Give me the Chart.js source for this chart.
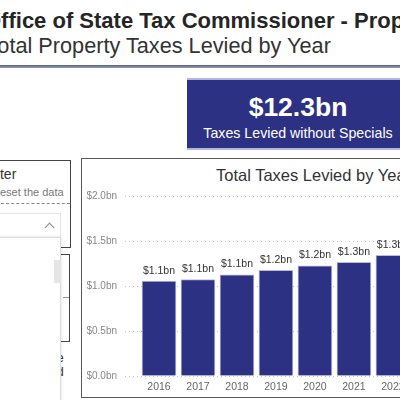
<!DOCTYPE html>
<html>
<head>
<meta charset="utf-8">
<script src="https://cdn.jsdelivr.net/npm/chart.js@4.4.0/dist/chart.umd.min.js"></script>
<style>
html, body { margin:0; padding:0; width:400px; height:400px; overflow:hidden; background:#fff;
  font-family:"Liberation Sans", Arial, sans-serif; }
div, span { position:absolute; white-space:nowrap; }
#hdr1 { left:-16px; top:8px; font-size:22px; line-height:25px; font-weight:bold; color:#252525; }
#hdr2 { left:-13.5px; top:33px; font-size:21.7px; line-height:25px; color:#333; }
#rule { left:0; top:65px; width:400px; height:3px; background:linear-gradient(#56637e,#95a0b5); }
#kpi { left:187px; top:78px; width:222px; height:68px; background:#2c3183;
  border-top:2px solid #b3b6dc; border-bottom:2px solid #b3b6dc; }
#kpiVal { left:0; width:222px; top:12px; text-align:center; font-size:26.5px; line-height:30px; font-weight:bold; color:#fff; }
#kpiLbl { left:0; width:222px; top:45px; text-align:center; font-size:14.2px; line-height:16px; color:#fff; }
#panel { left:81px; top:158px; width:400px; height:238px; border:1px solid #5a5a5a; background:#fff; }
#ctitle { left:134px; top:6px; font-size:16.5px; line-height:20px; color:#333; }
#wrap { left:1px; top:0px; width:345px; height:237px; }
#fbox { left:-5px; top:160px; width:74px; height:86px; border:1px solid #444; }
#ftitle { left:-10.8px; top:5px; font-size:14px; line-height:16px; color:#333; }
#fsub { left:-11.9px; top:25px; font-size:11px; line-height:13px; color:#777; }
#fdash { left:5px; top:42px; width:69px; border-top:1px dashed #888; }
#drop { left:-5px; top:213px; width:64px; height:23px; border:1px solid #e6e6e6; background:#fff; z-index:2; }
#chev { left:50px; top:10px; width:6px; height:6px; border-left:1px solid #888; border-top:1px solid #888; transform:rotate(45deg); }
#box2 { left:-5px; top:254px; width:73px; height:86px; border:1px solid #444; z-index:1; }
#dash2 { left:67px; top:42px; width:6px; border-top:1px dashed #999; }
.frag { font-size:12px; line-height:14px; color:#333; z-index:1; }
#list { left:-5px; top:237px; width:64px; height:200px; border:1px solid #ddd; background:#fff;
  box-shadow:0 0 3px rgba(0,0,0,.15); z-index:3; }
#thumb { left:58px; top:22px; width:7px; height:23px; background:#e5e5e5; }
</style>
</head>
<body>
<div id="hdr1">Office of State Tax Commissioner - Property Tax</div>
<div id="hdr2">Total Property Taxes Levied by Year</div>
<div id="rule"></div>
<div id="kpi">
  <div id="kpiVal">$12.3bn</div>
  <div id="kpiLbl">Taxes Levied without Specials</div>
</div>

<div id="fbox">
  <div id="ftitle">Filter</div>
  <div id="fsub">to reset the data</div>
  <div id="fdash"></div>
</div>
<div id="drop"><div id="chev"></div></div>
<div id="box2"><div id="dash2"></div></div>
<span class="frag" style="left:57px;top:351px">e</span>
<span class="frag" style="left:57px;top:365px">d</span>
<div id="list"><div id="thumb"></div></div>

<div id="panel">
  <div id="ctitle">Total Taxes Levied by Year</div>
  <div id="wrap"><canvas id="taxChart"></canvas></div>
</div>

<script>
// values (billions of dollars)
const years = [2016, 2017, 2018, 2019, 2020, 2021, 2022];
const totals = [1.055, 1.07, 1.125, 1.175, 1.225, 1.262, 1.34];
const yTicks = [0, 0.5, 1.0, 1.5, 2.0];

Chart.defaults.font.family = '"Liberation Sans", Arial, sans-serif';

function fmtBn(v) {
    return '$' + v.toFixed(1) + 'bn';
}

const barLabels = {
    id: 'barLabels',
    afterDatasetsDraw(chart) {
        const ctx = chart.ctx;
        const meta = chart.getDatasetMeta(0);
        ctx.save();
        ctx.font = '10.5px "Liberation Sans", Arial, sans-serif';
        ctx.fillStyle = '#333';
        ctx.textAlign = 'center';
        ctx.textBaseline = 'alphabetic';
        meta.data.forEach(function(bar, i) {
            ctx.fillText(fmtBn(totals[i]), bar.x, bar.y - 7.5);
        });
        ctx.restore();
    }
};

function manageTaxChart() {
    let ctx = document.getElementById('taxChart').getContext('2d');
    new Chart(ctx, {
        type: 'bar',
        data: {
            datasets: [{
                label: 'Total Taxes Levied',
                data: years.map(function(y, i) { return {x: y, y: totals[i]}; }),
                backgroundColor: '#2c3183',
                borderColor: '#b9bce0',
                borderWidth: 1,
                barThickness: 34
            }]
        },
        options: {
            responsive: true,
            maintainAspectRatio: false,
            animation: false,
            layout: { padding: { top: 37, bottom: 2, left: 0, right: 0 } },
            plugins: {
                legend: { display: false },
                tooltip: { enabled: false }
            },
            scales: {
                x: {
                    type: 'linear',
                    offset: false,
                    min: 2015.128,
                    max: 2022.9,
                    afterFit: function(s) { s.height = 18; },
                    grid: { display: false, drawTicks: false },
                    border: { display: false },
                    ticks: {
                        stepSize: 1,
                        includeBounds: false,
                        maxRotation: 0,
                        padding: 5,
                        color: '#666',
                        font: { size: 10.5 },
                        callback: function(v) { return String(v); }
                    }
                },
                y: {
                    min: yTicks[0],
                    max: yTicks[yTicks.length - 1],
                    afterFit: function(s) { s.width = 42; },
                    afterBuildTicks: function(s) { s.ticks = yTicks.map(function(v) { return {value: v}; }); },
                    grid: { color: '#c4c4c4', drawTicks: false },
                    border: { display: false, dash: [1, 3] },
                    ticks: {
                        padding: 8,
                        color: '#888',
                        font: { size: 10 },
                        callback: function(v) { return fmtBn(v); }
                    }
                }
            }
        },
        plugins: [barLabels]
    });
}

manageTaxChart();
</script>
</body>
</html>
